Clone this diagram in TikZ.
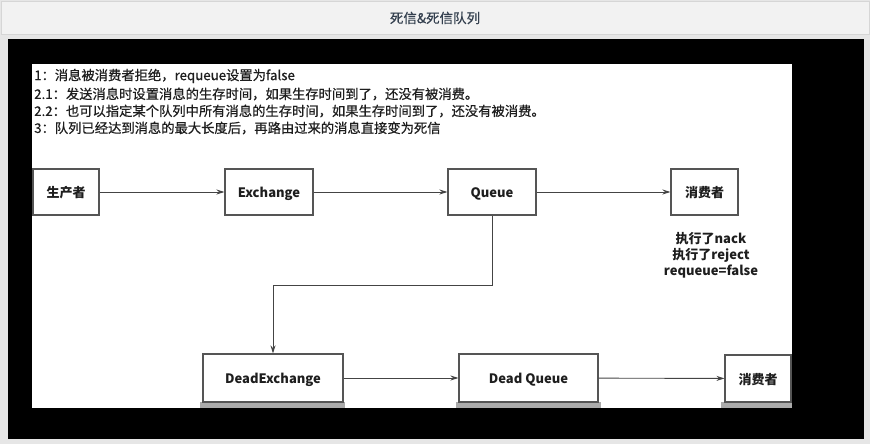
\documentclass[tikz,border=0pt]{standalone}
\usepackage{fontspec}
\setmainfont{Noto Sans CJK SC}
\newfontfamily\notefont[FakeBold=0.6]{Noto Sans CJK SC}
\newfontfamily\titlefont[FakeBold=0.5]{Noto Sans CJK SC}
\usetikzlibrary{arrows.meta}
\definecolor{pagebg}{HTML}{E6E6E6}
\definecolor{headbg}{HTML}{F2F2F2}
\definecolor{headline}{HTML}{D6D6D6}
\definecolor{titlecol}{HTML}{34404F}
\definecolor{boxline}{HTML}{555555}
\definecolor{arrcol}{HTML}{444444}
\definecolor{shadowcol}{HTML}{ABABAB}
\definecolor{txt}{HTML}{1E1E1E}
\tikzset{
  box/.style={draw=boxline, line width=1.1pt, fill=white, inner sep=0pt,
    text height=11pt, text depth=0pt,
    font=\fontsize{13}{15}\selectfont\bfseries, text=txt},
  arr/.style={draw=arrcol, line width=0.9pt, -{Stealth[length=8pt,width=5pt]}},
  note/.style={anchor=west, inner sep=0pt, font=\notefont\fontsize{13.3}{15}\selectfont, text=txt},
  remark/.style={inner sep=0pt, font=\fontsize{13}{16}\selectfont\bfseries, text=txt},
}
\begin{document}
\begin{tikzpicture}[x=1pt,y=-1pt]
\useasboundingbox (0,0) rectangle (870,444);
% page background and header
\fill[pagebg] (0,0) rectangle (870,444);
\draw[headline, fill=headbg, line width=0.8pt] (1,1) rectangle (869,34);
\node[font=\titlefont\fontsize{13.5}{15}\selectfont, text=titlecol] (title) at (435,18) {死信\&死信队列};
% black frame and white canvas
\fill[black] (8,39) rectangle (864,439);
\fill[white] (32,64) rectangle (792,408);
% notes
\node[note] (n1) at (34,76) {1：消息被消费者拒绝，requeue设置为false};
\node[note] (n2) at (34,94) {2.1：发送消息时设置消息的生存时间，如果生存时间到了，还没有被消费。};
\node[note] (n3) at (34,111) {2.2：也可以指定某个队列中所有消息的生存时间，如果生存时间到了，还没有被消费。};
\node[note] (n4) at (34,128) {3：队列已经达到消息的最大长度后，再路由过来的消息直接变为死信};
% shadows of lower boxes
\fill[shadowcol] (200,402) rectangle (345,408);
\fill[shadowcol] (456,402) rectangle (601,408);
\fill[shadowcol] (721,402) rectangle (792,408);
% top row
\node[box, minimum width=66pt, minimum height=46pt] (prod) at (66,192) {生产者};
\node[box, minimum width=88pt, minimum height=46pt] (ex) at (269,192) {Exchange};
\node[box, minimum width=88pt, minimum height=46pt] (q) at (492,192) {Queue};
\node[box, minimum width=67pt, minimum height=46pt] (cons1) at (704.5,192) {消费者};
\node[remark, align=center, font=\fontsize{13}{16}\selectfont\bfseries] (rem) at (711,255)
  {执行了nack\\执行了reject\\requeue=false};
% bottom row
\node[box, minimum width=140pt, minimum height=48pt] (dex) at (273,378) {DeadExchange};
\node[box, minimum width=139pt, minimum height=48pt] (dq) at (528.5,378) {Dead Queue};
\node[box, minimum width=66pt, minimum height=47pt] (cons2) at (758,378.5) {消费者};
% connectors
\draw[arr] (prod) -- (ex);
\draw[arr] (ex) -- (q);
\draw[arr] (q) -- (cons1);
\coordinate (bend) at (273,285);
\draw[arr] (q.south) |- (bend) -- (dex.north);
\draw[arr] (dex) -- (dq);
\draw[arr] (dq) -- (cons2);
\end{tikzpicture}
\end{document}
